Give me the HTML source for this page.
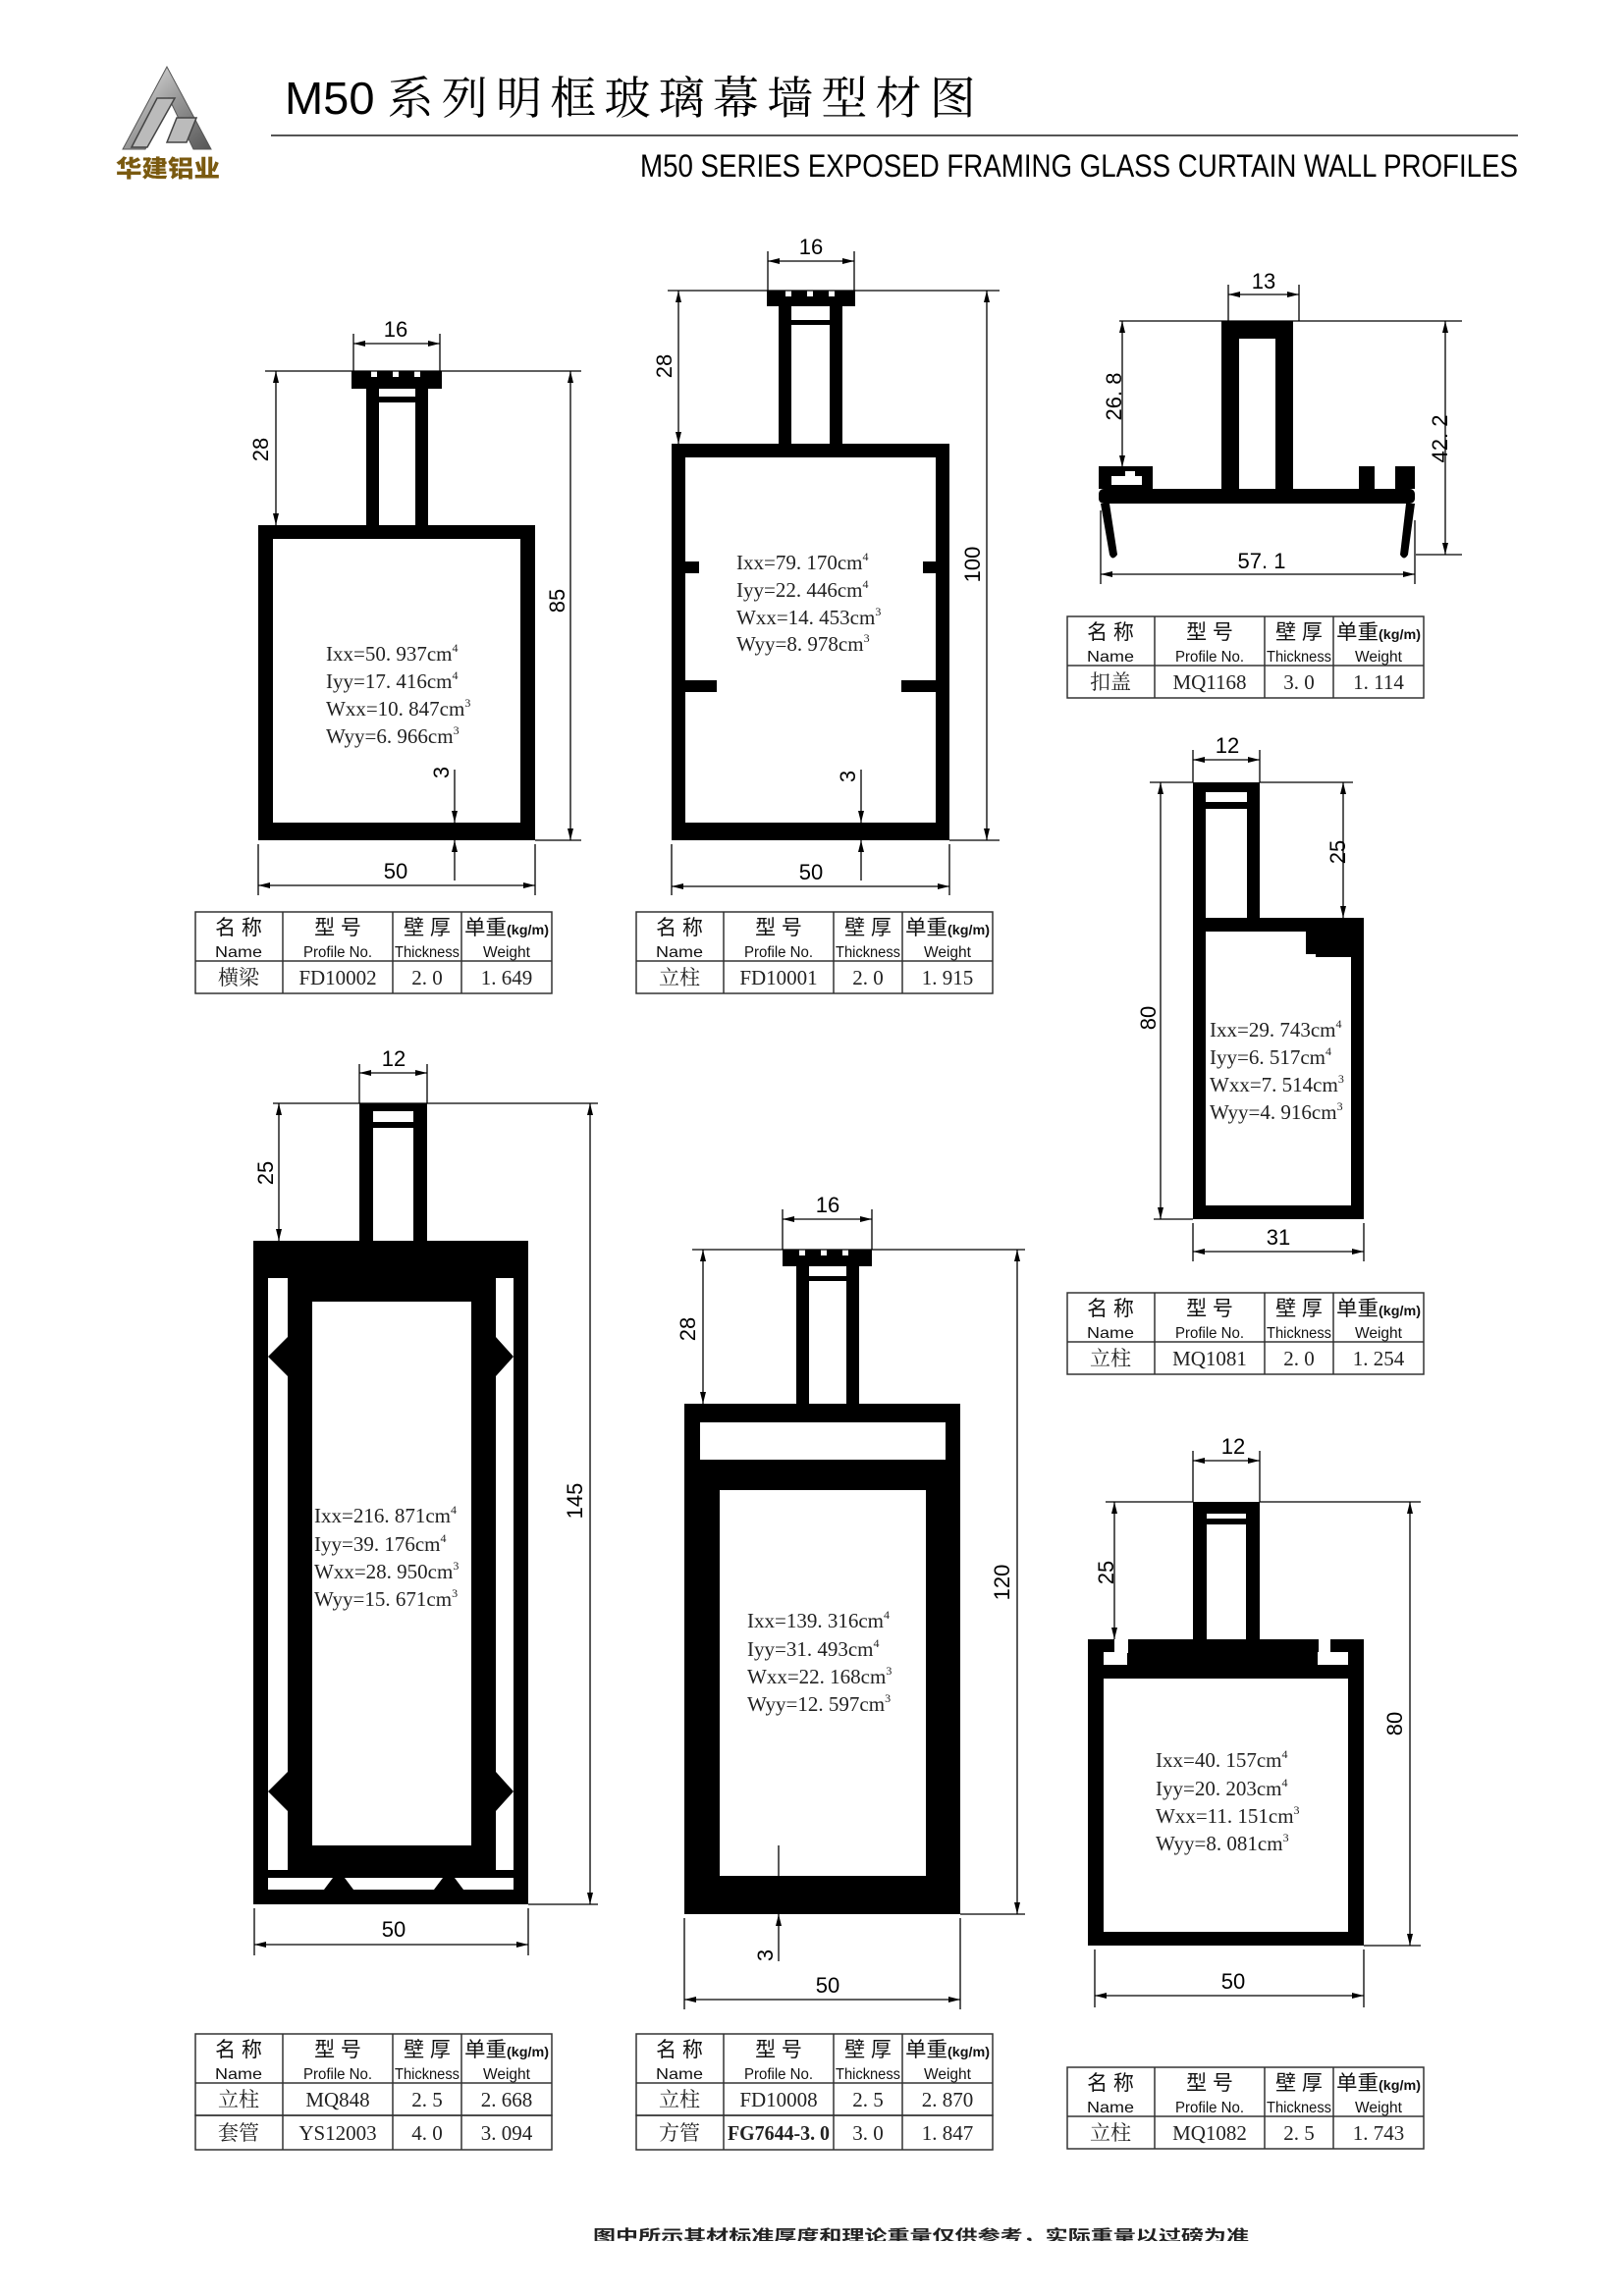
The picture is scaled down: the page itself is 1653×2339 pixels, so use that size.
<!DOCTYPE html>
<html><head><meta charset="utf-8"><style>
html,body{margin:0;padding:0;background:#fff;}
svg{display:block;}
.d{font-family:"Liberation Sans",sans-serif;font-size:22px;fill:#000;}
.p{font-family:"Liberation Serif",serif;font-size:21px;fill:#222;}
.th{font-family:"Liberation Sans","Noto Sans CJK SC",sans-serif;fill:#111;}
.tv{font-family:"Liberation Serif","Noto Serif CJK SC",serif;font-size:21px;fill:#222;}
</style></head><body>
<svg width="1653" height="2339" viewBox="0 0 1653 2339" xmlns="http://www.w3.org/2000/svg">
<defs>
<marker id="a" viewBox="0 0 12 6" refX="12" refY="3" markerWidth="12" markerHeight="6" markerUnits="userSpaceOnUse" orient="auto-start-reverse"><path d="M0,0 L12,3 L0,6 Z" fill="#000"/></marker>
<linearGradient id="lg" x1="0" y1="0" x2="1" y2="1"><stop offset="0" stop-color="#eee"/><stop offset="0.5" stop-color="#999"/><stop offset="1" stop-color="#555"/></linearGradient>
<g id="tbl">
<rect x="0" y="0" width="363" height="83" fill="none" stroke="#333" stroke-width="1.5"/>
<line x1="0" y1="50" x2="363" y2="50" stroke="#333" stroke-width="1.5"/>
<line x1="89" y1="0" x2="89" y2="83" stroke="#333" stroke-width="1.5"/>
<line x1="201" y1="0" x2="201" y2="83" stroke="#333" stroke-width="1.5"/>
<line x1="271" y1="0" x2="271" y2="83" stroke="#333" stroke-width="1.5"/>
<text class="th" x="44" y="23" font-size="21" text-anchor="middle">名 称</text>
<text class="th" x="44" y="46" font-size="16" text-anchor="middle" textLength="48" lengthAdjust="spacingAndGlyphs">Name</text>
<text class="th" x="145" y="23" font-size="21" text-anchor="middle">型 号</text>
<text class="th" x="145" y="46" font-size="16" text-anchor="middle" textLength="70" lengthAdjust="spacingAndGlyphs">Profile No.</text>
<text class="th" x="236" y="23" font-size="21" text-anchor="middle">壁 厚</text>
<text class="th" x="236" y="46" font-size="16" text-anchor="middle" textLength="66" lengthAdjust="spacingAndGlyphs">Thickness</text>
<text class="th" x="317" y="23" font-size="21" text-anchor="middle" textLength="86" lengthAdjust="spacingAndGlyphs">单重<tspan font-size="14" font-weight="bold">(kg/m)</tspan></text>
<text class="th" x="317" y="46" font-size="16" text-anchor="middle" textLength="48" lengthAdjust="spacingAndGlyphs">Weight</text>
</g>
</defs>

<!-- header -->
<polygon points="170,68 125,152 148,152 172,100 197,152 215,152" fill="url(#lg)" stroke="#555" stroke-width="1"/>
<path d="M160,100 L178,100 L150,150 L134,150 Z M180,120 L200,120 L190,145 L170,145Z" fill="#bbb" stroke="#444" stroke-width="1.5"/>
<text x="171" y="180" text-anchor="middle" font-family="'Noto Sans CJK SC',sans-serif" font-weight="900" font-size="24" fill="#7a5a10" textLength="106" lengthAdjust="spacingAndGlyphs">华建铝业</text>
<text x="290" y="116" font-family="'Liberation Sans','Noto Serif CJK SC',sans-serif" font-size="46" fill="#000" textLength="712" lengthAdjust="spacingAndGlyphs">M50 <tspan font-family="'Noto Serif CJK SC',serif" letter-spacing="8">系列明框玻璃幕墙型材图</tspan></text>
<line x1="276" y1="138" x2="1546" y2="138" stroke="#555" stroke-width="2"/>
<text x="652" y="180" font-family="'Liberation Sans',sans-serif" font-size="32" fill="#000" textLength="894" lengthAdjust="spacingAndGlyphs">M50  SERIES EXPOSED FRAMING GLASS CURTAIN WALL PROFILES</text>

<g stroke="#000" stroke-width="1.3" fill="none">
<line x1="270" y1="378" x2="592" y2="378"/><line x1="545" y1="856" x2="592" y2="856"/>
<line x1="360" y1="340" x2="360" y2="378"/><line x1="448" y1="340" x2="448" y2="378"/>
<line x1="360" y1="350" x2="448" y2="350" marker-start="url(#a)" marker-end="url(#a)"/>
<line x1="281" y1="378" x2="281" y2="535" marker-start="url(#a)" marker-end="url(#a)"/>
<line x1="581" y1="378" x2="581" y2="856" marker-start="url(#a)" marker-end="url(#a)"/>
<line x1="263" y1="860" x2="263" y2="912"/><line x1="545" y1="860" x2="545" y2="912"/>
<line x1="263" y1="902" x2="545" y2="902" marker-start="url(#a)" marker-end="url(#a)"/>
<line x1="463" y1="784" x2="463" y2="838" marker-end="url(#a)"/><line x1="463" y1="897" x2="463" y2="856" marker-end="url(#a)"/>
<line x1="680" y1="296" x2="1018" y2="296"/><line x1="967" y1="856" x2="1018" y2="856"/>
<line x1="782" y1="256" x2="782" y2="296"/><line x1="870" y1="256" x2="870" y2="296"/>
<line x1="782" y1="266" x2="870" y2="266" marker-start="url(#a)" marker-end="url(#a)"/>
<line x1="691" y1="296" x2="691" y2="452" marker-start="url(#a)" marker-end="url(#a)"/>
<line x1="1005" y1="296" x2="1005" y2="856" marker-start="url(#a)" marker-end="url(#a)"/>
<line x1="684" y1="860" x2="684" y2="912"/><line x1="967" y1="860" x2="967" y2="912"/>
<line x1="684" y1="903" x2="967" y2="903" marker-start="url(#a)" marker-end="url(#a)"/>
<line x1="877" y1="784" x2="877" y2="838" marker-end="url(#a)"/><line x1="877" y1="897" x2="877" y2="856" marker-end="url(#a)"/>
<line x1="1140" y1="327" x2="1489" y2="327"/><line x1="1442" y1="565" x2="1489" y2="565"/>
<line x1="1251" y1="290" x2="1251" y2="327"/><line x1="1323" y1="290" x2="1323" y2="327"/>
<line x1="1251" y1="300" x2="1323" y2="300" marker-start="url(#a)" marker-end="url(#a)"/>
<line x1="1143" y1="327" x2="1143" y2="476" marker-start="url(#a)" marker-end="url(#a)"/>
<line x1="1472" y1="327" x2="1472" y2="565" marker-start="url(#a)" marker-end="url(#a)"/>
<line x1="1121" y1="520" x2="1121" y2="595"/><line x1="1441" y1="530" x2="1441" y2="595"/>
<line x1="1121" y1="585" x2="1441" y2="585" marker-start="url(#a)" marker-end="url(#a)"/>
<line x1="1171" y1="797" x2="1215" y2="797"/><line x1="1283" y1="797" x2="1378" y2="797"/>
<line x1="1215" y1="764" x2="1215" y2="797"/><line x1="1283" y1="764" x2="1283" y2="797"/>
<line x1="1215" y1="774" x2="1283" y2="774" marker-start="url(#a)" marker-end="url(#a)"/>
<line x1="1368" y1="797" x2="1368" y2="935" marker-start="url(#a)" marker-end="url(#a)"/>
<line x1="1182" y1="797" x2="1182" y2="1242" marker-start="url(#a)" marker-end="url(#a)"/>
<line x1="1175" y1="1242" x2="1215" y2="1242"/>
<line x1="1215" y1="1246" x2="1215" y2="1285"/><line x1="1389" y1="1246" x2="1389" y2="1285"/>
<line x1="1215" y1="1275" x2="1389" y2="1275" marker-start="url(#a)" marker-end="url(#a)"/>
<line x1="278" y1="1124" x2="609" y2="1124"/><line x1="538" y1="1940" x2="609" y2="1940"/>
<line x1="366" y1="1084" x2="366" y2="1124"/><line x1="435" y1="1084" x2="435" y2="1124"/>
<line x1="366" y1="1093" x2="435" y2="1093" marker-start="url(#a)" marker-end="url(#a)"/>
<line x1="284" y1="1124" x2="284" y2="1264" marker-start="url(#a)" marker-end="url(#a)"/>
<line x1="601" y1="1124" x2="601" y2="1940" marker-start="url(#a)" marker-end="url(#a)"/>
<line x1="259" y1="1944" x2="259" y2="1992"/><line x1="538" y1="1944" x2="538" y2="1992"/>
<line x1="259" y1="1981" x2="538" y2="1981" marker-start="url(#a)" marker-end="url(#a)"/>
<line x1="705" y1="1273" x2="1044" y2="1273"/><line x1="978" y1="1950" x2="1044" y2="1950"/>
<line x1="797" y1="1232" x2="797" y2="1273"/><line x1="888" y1="1232" x2="888" y2="1273"/>
<line x1="797" y1="1242" x2="888" y2="1242" marker-start="url(#a)" marker-end="url(#a)"/>
<line x1="716" y1="1273" x2="716" y2="1430" marker-start="url(#a)" marker-end="url(#a)"/>
<line x1="1036" y1="1273" x2="1036" y2="1950" marker-start="url(#a)" marker-end="url(#a)"/>
<line x1="697" y1="1954" x2="697" y2="2047"/><line x1="978" y1="1954" x2="978" y2="2047"/>
<line x1="697" y1="2037" x2="978" y2="2037" marker-start="url(#a)" marker-end="url(#a)"/>
<line x1="793" y1="1880" x2="793" y2="1911" /><line x1="793" y1="1998" x2="793" y2="1950" marker-end="url(#a)"/>
<line x1="1126" y1="1530" x2="1215" y2="1530"/><line x1="1283" y1="1530" x2="1447" y2="1530"/>
<line x1="1215" y1="1478" x2="1215" y2="1530"/><line x1="1283" y1="1478" x2="1283" y2="1530"/>
<line x1="1215" y1="1488" x2="1283" y2="1488" marker-start="url(#a)" marker-end="url(#a)"/>
<line x1="1135" y1="1530" x2="1135" y2="1670" marker-start="url(#a)" marker-end="url(#a)"/>
<line x1="1436" y1="1530" x2="1436" y2="1982" marker-start="url(#a)" marker-end="url(#a)"/>
<line x1="1389" y1="1982" x2="1447" y2="1982"/>
<line x1="1115" y1="1986" x2="1115" y2="2045"/><line x1="1389" y1="1986" x2="1389" y2="2045"/>
<line x1="1115" y1="2033" x2="1389" y2="2033" marker-start="url(#a)" marker-end="url(#a)"/>
</g>

<g class="d" text-anchor="middle">
<text x="403" y="343">16</text><text x="403" y="895">50</text>
<text transform="translate(273,458) rotate(-90)">28</text>
<text transform="translate(575,612) rotate(-90)">85</text>
<text transform="translate(457,787) rotate(-90)">3</text>
<text x="826" y="259">16</text><text x="826" y="896">50</text>
<text transform="translate(684,373) rotate(-90)">28</text>
<text transform="translate(998,575) rotate(-90)">100</text>
<text transform="translate(871,791) rotate(-90)">3</text>
<text x="1287" y="294">13</text><text x="1285" y="579">57. 1</text>
<text transform="translate(1142,404) rotate(-90)">26. 8</text>
<text transform="translate(1474,447) rotate(-90)">42. 2</text>
<text x="1250" y="767">12</text><text x="1302" y="1268">31</text>
<text transform="translate(1370,868) rotate(-90)">25</text>
<text transform="translate(1177,1037) rotate(-90)">80</text>
<text x="401" y="1086">12</text><text x="401" y="1973">50</text>
<text transform="translate(278,1195) rotate(-90)">25</text>
<text transform="translate(593,1529) rotate(-90)">145</text>
<text x="843" y="1235">16</text><text x="843" y="2030">50</text>
<text transform="translate(708,1354) rotate(-90)">28</text>
<text transform="translate(1028,1612) rotate(-90)">120</text>
<text transform="translate(787,1992) rotate(-90)">3</text>
<text x="1256" y="1481">12</text><text x="1256" y="2026">50</text>
<text transform="translate(1134,1602) rotate(-90)">25</text>
<text transform="translate(1428,1756) rotate(-90)">80</text>
</g>

<g fill="#000" fill-rule="evenodd">
<path d="M263,535 H545 V856 H263 Z M278,549 V838 H530 V549 Z"/>
<rect x="373" y="394" width="13" height="141"/><rect x="423" y="394" width="13" height="141"/>
<rect x="373" y="404" width="63" height="6"/>
<path d="M358,378 H450 V396 H358 Z M378,378 v6 h6 v-6 Z M400,378 v6 h6 v-6 Z M422,378 v6 h6 v-6Z"/>
<path d="M684,452 H967 V856 H684 Z M698,466 V838 H953 V466 Z"/>
<rect x="698" y="572" width="14" height="12"/><rect x="940" y="572" width="13" height="12"/>
<rect x="698" y="693" width="32" height="12"/><rect x="918" y="693" width="35" height="12"/>
<rect x="793" y="311" width="13" height="141"/><rect x="845" y="311" width="13" height="141"/>
<rect x="793" y="326" width="65" height="5"/>
<path d="M781,296 H871 V312 H781 Z M800,296 v6 h6 v-6Z M822,296 v6 h6 v-6Z M844,296 v6 h6 v-6Z"/>
<path d="M1244,327 H1317 V498 H1244 Z M1262,345 V498 H1299 V345 Z"/>
<rect x="1119" y="498" width="322" height="15" rx="5"/>
<path d="M1119,475 H1174 V498 H1119 Z M1132,485 V494 H1163 V485 H1156 V480 H1146 V485 Z"/>
<path d="M1384,475 H1400 V498 H1384 Z M1421,475 H1441 V498 H1421Z"/>
<path d="M1121,513 L1130,513 L1138,565 Q1133,572 1130,565 Z"/>
<path d="M1441,513 L1432,513 L1426,565 Q1430,572 1434,565 Z"/>
<!-- P4 -->
<path d="M1215,935 H1389 V1242 H1215 Z M1228,949 V1228 H1376 V972 H1330 V949 Z"/>
<rect x="1215" y="797" width="13" height="140"/><rect x="1270" y="797" width="13" height="140"/>
<rect x="1215" y="797" width="68" height="10"/><rect x="1215" y="817" width="68" height="7"/>
<path d="M1340,935 H1389 V975 H1340Z M1350,945 V962 H1378 V945 H1370 V938 H1360 V945 Z"/>
<!-- P5 -->
<path d="M258,1264 H538 V1940 H258 Z M273,1302 V1925 H523 V1302 Z"/>
<rect x="258" y="1264" width="280" height="16" rx="3"/>
<path d="M273,1280 H523 V1302 H273 Z M324,1280 V1302 H472 V1280 Z"/>
<path d="M293,1302 H505 V1905 H293 Z M318,1326 V1880 H480 V1326 Z"/>
<polygon points="273,1382 293,1362 310,1382 293,1402" /><polygon points="523,1382 505,1362 488,1382 505,1402"/>
<polygon points="273,1825 293,1805 310,1825 293,1845"/><polygon points="523,1825 505,1805 488,1825 505,1845"/>
<polygon points="330,1925 345,1905 360,1925"/><polygon points="442,1925 457,1905 472,1925"/>
<rect x="273" y="1905" width="250" height="8"/>
<rect x="366" y="1124" width="14" height="140"/><rect x="421" y="1124" width="14" height="140"/>
<rect x="366" y="1124" width="69" height="8"/><rect x="366" y="1143" width="69" height="6"/>
<!-- P6 -->
<path d="M697,1430 H978 V1950 H697 Z M713,1449 V1487 H963 V1449 Z M733,1518 V1911 H943 V1518 Z"/>
<rect x="811" y="1290" width="13" height="140"/><rect x="862" y="1290" width="13" height="140"/>
<rect x="811" y="1300" width="64" height="5"/>
<path d="M797,1273 H888 V1290 H797Z M814,1273 v6 h6 v-6Z M836,1273 v6 h6 v-6Z M858,1273 v6 h6 v-6Z"/>
<!-- P7 -->
<path d="M1108,1670 H1389 V1982 H1108 Z M1124,1710 V1968 H1373 V1710 Z"/>
<rect x="1215" y="1530" width="14" height="140"/><rect x="1269" y="1530" width="14" height="140"/>
<rect x="1215" y="1530" width="68" height="12"/><rect x="1215" y="1547" width="68" height="6"/>
</g>
<rect x="1124" y="1683" width="24" height="13" fill="#fff"/>
<rect x="1135" y="1670" width="14" height="14" fill="#fff"/>
<rect x="1342" y="1683" width="31" height="13" fill="#fff"/>
<rect x="1343" y="1670" width="12" height="14" fill="#fff"/>
<rect x="1186" y="1697" width="8" height="13" fill="#000"/>
<rect x="1324" y="1697" width="8" height="13" fill="#000"/>

<g class="p">
<text x="332" y="673">Ixx=50. 937cm<tspan font-size="12" dy="-9">4</tspan></text>
<text x="332" y="701">Iyy=17. 416cm<tspan font-size="12" dy="-9">4</tspan></text>
<text x="332" y="729">Wxx=10. 847cm<tspan font-size="12" dy="-9">3</tspan></text>
<text x="332" y="757">Wyy=6. 966cm<tspan font-size="12" dy="-9">3</tspan></text>
<text x="750" y="580">Ixx=79. 170cm<tspan font-size="12" dy="-9">4</tspan></text>
<text x="750" y="608">Iyy=22. 446cm<tspan font-size="12" dy="-9">4</tspan></text>
<text x="750" y="636">Wxx=14. 453cm<tspan font-size="12" dy="-9">3</tspan></text>
<text x="750" y="663">Wyy=8. 978cm<tspan font-size="12" dy="-9">3</tspan></text>
<text x="1232" y="1056">Ixx=29. 743cm<tspan font-size="12" dy="-9">4</tspan></text>
<text x="1232" y="1084">Iyy=6. 517cm<tspan font-size="12" dy="-9">4</tspan></text>
<text x="1232" y="1112">Wxx=7. 514cm<tspan font-size="12" dy="-9">3</tspan></text>
<text x="1232" y="1140">Wyy=4. 916cm<tspan font-size="12" dy="-9">3</tspan></text>
<text x="320" y="1551">Ixx=216. 871cm<tspan font-size="12" dy="-9">4</tspan></text>
<text x="320" y="1580">Iyy=39. 176cm<tspan font-size="12" dy="-9">4</tspan></text>
<text x="320" y="1608">Wxx=28. 950cm<tspan font-size="12" dy="-9">3</tspan></text>
<text x="320" y="1636">Wyy=15. 671cm<tspan font-size="12" dy="-9">3</tspan></text>
<text x="761" y="1658">Ixx=139. 316cm<tspan font-size="12" dy="-9">4</tspan></text>
<text x="761" y="1687">Iyy=31. 493cm<tspan font-size="12" dy="-9">4</tspan></text>
<text x="761" y="1715">Wxx=22. 168cm<tspan font-size="12" dy="-9">3</tspan></text>
<text x="761" y="1743">Wyy=12. 597cm<tspan font-size="12" dy="-9">3</tspan></text>
<text x="1177" y="1800">Ixx=40. 157cm<tspan font-size="12" dy="-9">4</tspan></text>
<text x="1177" y="1829">Iyy=20. 203cm<tspan font-size="12" dy="-9">4</tspan></text>
<text x="1177" y="1857">Wxx=11. 151cm<tspan font-size="12" dy="-9">3</tspan></text>
<text x="1177" y="1885">Wyy=8. 081cm<tspan font-size="12" dy="-9">3</tspan></text>
</g>

<g transform="translate(199,929)"><use href="#tbl"/>
<g class="tv" text-anchor="middle"><text x="44" y="74">横梁</text><text x="145" y="74">FD10002</text><text x="236" y="74">2. 0</text><text x="317" y="74">1. 649</text></g></g>
<g transform="translate(648,929)"><use href="#tbl"/>
<g class="tv" text-anchor="middle"><text x="44" y="74">立柱</text><text x="145" y="74">FD10001</text><text x="236" y="74">2. 0</text><text x="317" y="74">1. 915</text></g></g>
<g transform="translate(1087,628)"><use href="#tbl"/>
<g class="tv" text-anchor="middle"><text x="44" y="74">扣盖</text><text x="145" y="74">MQ1168</text><text x="236" y="74">3. 0</text><text x="317" y="74">1. 114</text></g></g>
<g transform="translate(1087,1317)"><use href="#tbl"/>
<g class="tv" text-anchor="middle"><text x="44" y="74">立柱</text><text x="145" y="74">MQ1081</text><text x="236" y="74">2. 0</text><text x="317" y="74">1. 254</text></g></g>
<g transform="translate(1087,2106)"><use href="#tbl"/>
<g class="tv" text-anchor="middle"><text x="44" y="74">立柱</text><text x="145" y="74">MQ1082</text><text x="236" y="74">2. 5</text><text x="317" y="74">1. 743</text></g></g>
<g transform="translate(199,2072)"><use href="#tbl"/>
<rect x="0" y="83" width="363" height="35" fill="none" stroke="#333" stroke-width="1.5"/>
<line x1="89" y1="83" x2="89" y2="118" stroke="#333" stroke-width="1.5"/><line x1="201" y1="83" x2="201" y2="118" stroke="#333" stroke-width="1.5"/><line x1="271" y1="83" x2="271" y2="118" stroke="#333" stroke-width="1.5"/>
<g class="tv" text-anchor="middle"><text x="44" y="74">立柱</text><text x="145" y="74">MQ848</text><text x="236" y="74">2. 5</text><text x="317" y="74">2. 668</text>
<text x="44" y="108">套管</text><text x="145" y="108">YS12003</text><text x="236" y="108">4. 0</text><text x="317" y="108">3. 094</text></g></g>
<g transform="translate(648,2072)"><use href="#tbl"/>
<rect x="0" y="83" width="363" height="35" fill="none" stroke="#333" stroke-width="1.5"/>
<line x1="89" y1="83" x2="89" y2="118" stroke="#333" stroke-width="1.5"/><line x1="201" y1="83" x2="201" y2="118" stroke="#333" stroke-width="1.5"/><line x1="271" y1="83" x2="271" y2="118" stroke="#333" stroke-width="1.5"/>
<g class="tv" text-anchor="middle"><text x="44" y="74">立柱</text><text x="145" y="74">FD10008</text><text x="236" y="74">2. 5</text><text x="317" y="74">2. 870</text>
<text x="44" y="108">方管</text><text x="145" y="108" font-weight="bold" textLength="104" lengthAdjust="spacingAndGlyphs">FG7644-3. 0</text><text x="236" y="108">3. 0</text><text x="317" y="108">1. 847</text></g></g>

<text x="938" y="2283" text-anchor="middle" font-family="'Noto Sans CJK SC',sans-serif" font-weight="bold" font-size="16" fill="#222" textLength="668" lengthAdjust="spacingAndGlyphs">图中所示其材标准厚度和理论重量仅供参考，实际重量以过磅为准</text>
<rect x="590" y="2283" width="700" height="20" fill="#fff"/>
</svg>
</body></html>
